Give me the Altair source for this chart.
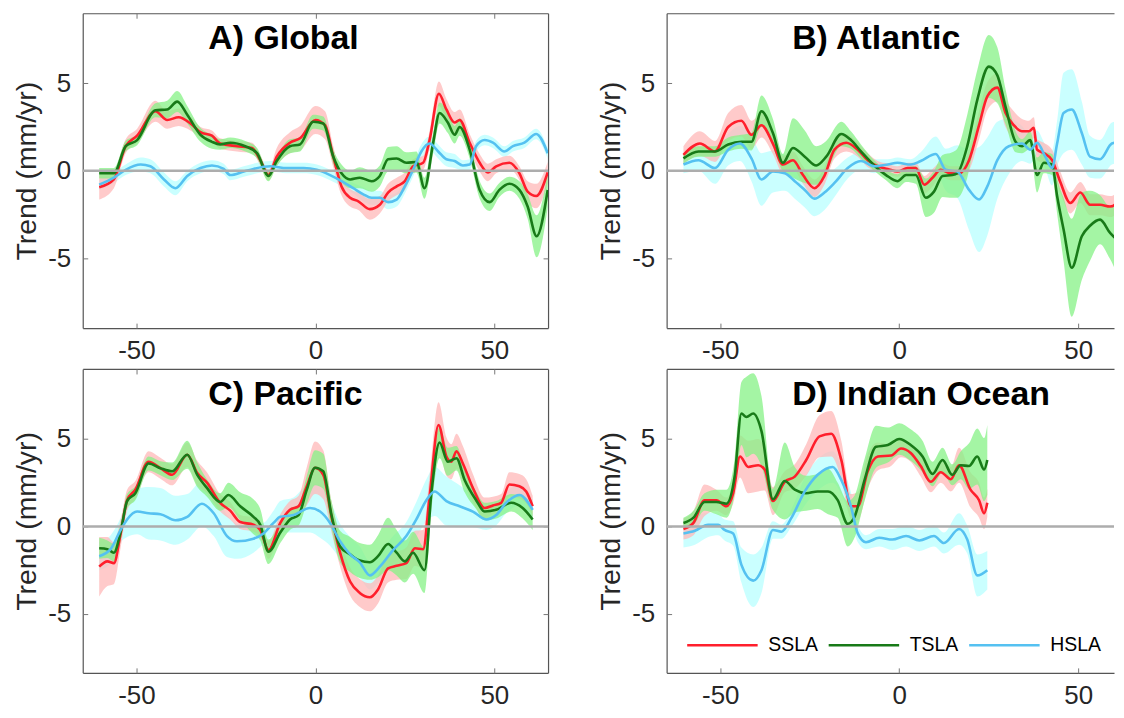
import altair as alt
import pandas as pd

SERIES = ["SSLA", "TSLA", "HSLA"]
LINE_COLORS = ["#FF1F2C", "#187A18", "#55C1F1"]
BAND_COLORS = ["#FFB8B8", "#86F286", "#B8FFFF"]
X_TICKS = [-50, 0, 50]
Y_TICKS = [-5, 0, 5]
ZERO = [0]
TITLES = ["A) Global", "B) Atlantic", "C) Pacific", "D) Indian Ocean"]

# ---------------- A) Global ----------------
A_SSLA_LAT = [-60.4, -56.3, -53, -49.8, -44.7, -41.4, -38.2, -34.9, -32.1, -28.9,
              -26.6, -21.9, -17.7, -15.4, -13.1, -10.8, -7.1, -4.3, 0, 2.7,
              5, 7.3, 9.7, 12, 15.2, 18, 20.3, 22.7, 25, 27.3,
              30.1, 31.9, 34.5, 36.6, 38.9, 40.3, 43.1, 45.9, 48.2, 50.5,
              54.2, 57, 59.3, 61.7, 64.9]
A_SSLA = [-0.95, -0.5, 1.4, 2.0, 3.4, 2.9, 3.05, 2.7, 2.2, 2.0,
          1.55, 1.4, 1.3, 0.6, -0.25, 0.8, 1.6, 1.85, 2.9, 2.6,
          0.8, -0.9, -1.55, -1.75, -2.2, -1.95, -1.25, -0.9, -0.6, 0.25,
          0.45, 1.75, 4.4, 3.5, 2.75, 2.9, 1.6, 0.45, -0.1, 0.25,
          0.45, -0.15, -1.2, -1.45, -0.1]
A_SSLA_ERR = [0.7, 0.5, 0.4, 0.4, 0.6, 0.5, 0.5, 0.4, 0.3, 0.3,
              0.3, 0.3, 0.3, 0.3, 0.3, 0.5, 0.6, 0.7, 0.8, 0.8,
              0.6, 0.5, 0.5, 0.5, 0.6, 0.5, 0.5, 0.5, 0.5, 0.4,
              0.4, 0.5, 0.7, 0.6, 0.6, 0.6, 0.5, 0.5, 0.5, 0.4,
              0.4, 0.4, 0.6, 0.7, 0.6]
A_TSLA_LAT = [-60.4, -56.3, -53, -49.8, -44.7, -41.4, -38.6, -35.8, -32.1, -28.9,
              -26.6, -23.8, -19.6, -16.3, -13.1, -10.8, -7.1, -4.3, -0.6, 2.2,
              5, 7.3, 9.7, 12.4, 15.7, 18, 20.3, 22.7, 25.4, 28.2,
              30.5, 32.9, 34.7, 37, 38.9, 40.3, 43.1, 45.9, 48.7, 51.4,
              54.2, 57, 59.3, 61.8, 64.9]
A_TSLA = [-0.15, -0.15, 1.4, 1.75, 3.45, 3.5, 3.95, 3.2, 2.05, 1.65,
          1.5, 1.6, 1.4, 1.0, -0.3, 0.55, 1.4, 1.5, 2.8, 2.7,
          0.8, -0.15, -0.5, -0.4, -0.6, -0.3, 0.65, 0.7, 0.45, 0.5,
          -1.0, 1.6, 3.3, 2.75, 2.05, 2.5, 1.2, -1.1, -1.8, -1.1,
          -0.75, -1.1, -2.05, -3.75, -1.1]
A_TSLA_ERR = [0.3, 0.3, 0.3, 0.3, 0.4, 0.5, 0.6, 0.5, 0.4, 0.4,
              0.3, 0.3, 0.3, 0.3, 0.3, 0.3, 0.4, 0.4, 0.4, 0.4,
              0.4, 0.5, 0.5, 0.6, 0.6, 0.6, 0.7, 0.7, 0.6, 0.6,
              0.6, 0.6, 0.6, 0.6, 0.5, 0.5, 0.5, 0.5, 0.5, 0.4,
              0.4, 0.5, 0.7, 1.2, 1.0]
A_HSLA_LAT = [-60.4, -56.3, -53, -48.8, -46.1, -42.3, -39.1, -35.8, -32.1, -28.9,
              -25.6, -23.8, -20, -17.3, -12.6, -8, -3.3, 0.4, 4.1, 7.8,
              10.6, 13.4, 15.7, 18, 20.3, 22.7, 25, 27.3, 29.6, 31.9,
              34.3, 36.6, 38.9, 41.2, 43.1, 44.9, 47.3, 49.6, 52.8, 55.2,
              58.4, 61.7, 64.9]
A_HSLA = [-0.8, -0.4, 0.05, 0.35, 0.25, -0.5, -1.0, -0.3, 0.15, 0.3,
          0.1, -0.25, -0.05, 0.1, 0.25, 0.15, 0.15, 0.05, -0.25, -0.65,
          -1.0, -1.35, -1.55, -1.55, -1.8, -1.65, -0.9, 0.05, 1.1, 1.55,
          1.1, 0.65, 0.55, 0.3, 0.35, 1.4, 1.75, 1.6, 1.1, 1.4,
          1.6, 2.1, 1.0]
A_HSLA_ERR = [0.3, 0.3, 0.3, 0.4, 0.4, 0.4, 0.4, 0.3, 0.3, 0.3,
              0.3, 0.3, 0.3, 0.3, 0.3, 0.3, 0.3, 0.3, 0.3, 0.3,
              0.3, 0.4, 0.4, 0.4, 0.4, 0.4, 0.4, 0.4, 0.4, 0.4,
              0.4, 0.4, 0.4, 0.3, 0.3, 0.3, 0.3, 0.3, 0.3, 0.3,
              0.3, 0.3, 0.3]

# ---------------- B) Atlantic ----------------
B_SSLA_LAT = [-60.3, -55.7, -51.5, -47.8, -44.1, -41.3, -38.5, -35.3, -32.5, -29.7,
              -26.9, -23.7, -20.9, -18.1, -14.8, -11.6, -8.8, -6, -3.2, -0.5,
              2.3, 4.6, 7, 9.3, 11.6, 14.4, 16.7, 19.5, 22.3, 24.6,
              27.4, 29.7, 32, 34.3, 36.2, 37.6, 38.5, 40.4, 42.7, 45,
              47.8, 50.6, 53.3, 56.1, 58.9, 60.8, 62.8]
B_SSLA = [0.9, 1.55, 1.1, 2.5, 2.85, 2.05, 2.6, 1.55, 0.35, 0.6,
          -0.25, -1.0, -0.3, 1.2, 1.6, 1.2, 0.6, 0.25, 0.1, -0.05,
          0.15, 0.15, -0.8, -0.4, 0.05, -0.15, -0.15, 0.6, 2.6, 4.25,
          4.75, 3.3, 2.6, 2.25, 2.25, 2.45, 1.2, 1.0, 0.6, -0.65,
          -1.85, -1.25, -1.95, -1.95, -2.05, -1.85, -1.0]
B_SSLA_ERR = [0.5, 0.7, 0.6, 0.8, 0.9, 0.8, 0.7, 0.6, 0.5, 0.5,
              0.5, 0.5, 0.5, 0.5, 0.5, 0.4, 0.4, 0.3, 0.3, 0.3,
              0.3, 0.3, 0.5, 0.5, 0.4, 0.4, 0.4, 0.6, 0.8, 0.8,
              0.8, 0.8, 0.8, 0.7, 0.6, 0.6, 0.6, 0.6, 0.6, 0.6,
              0.6, 0.6, 0.6, 0.6, 0.6, 0.6, 0.6]
B_TSLA_LAT = [-60.3, -56.1, -51.5, -47.8, -44.1, -41.3, -38.5, -35.3, -32.5, -29.7,
              -26.4, -23.2, -20.4, -16.2, -13.5, -10.7, -7, -3.7, -0.5, 1.9,
              4.6, 7.4, 9.7, 12.1, 14.8, 16.2, 19, 21.8, 25, 27.4,
              29.7, 32.5, 34.3, 36.6, 38.5, 40.4, 42.7, 44.1, 45.9, 48.2,
              51, 53.3, 56.1, 58.9, 61.7, 62.8]
B_TSLA = [0.7, 1.1, 1.1, 1.5, 1.65, 1.65, 3.4, 2.15, 0.45, 1.3,
          0.8, 0.3, 0.8, 2.1, 1.75, 1.1, 0.3, -0.25, -0.6, -0.25,
          -0.25, -1.55, -1.2, -0.3, -0.25, -0.15, 1.4, 4.05, 5.95, 5.45,
          3.65, 1.65, 1.4, 1.75, -0.25, 0.45, 0.35, -1.45, -3.35, -5.55,
          -3.75, -3.15, -2.8, -3.55, -4.0, -3.15]
B_TSLA_ERR = [0.3, 0.3, 0.3, 0.4, 0.4, 0.5, 0.9, 0.8, 0.5, 1.7,
              1.5, 1.1, 0.9, 0.7, 0.5, 0.4, 0.3, 0.3, 0.4, 0.4,
              0.5, 1.1, 1.2, 1.2, 1.3, 1.4, 1.8, 1.7, 1.8, 1.6,
              1.0, 0.6, 0.4, 0.5, 1.0, 0.6, 0.6, 1.0, 1.8, 2.8,
              2.5, 2.0, 1.4, 1.5, 2.0, 2.0]
B_HSLA_LAT = [-60.3, -56.1, -51.5, -47.8, -44.5, -41.3, -38.5, -35.3, -32, -29.2,
              -26.4, -23.7, -20.9, -18.1, -14.4, -10.7, -7, -3.2, -0.5, 3.2,
              6, 10.2, 13, 16.2, 19.5, 22.3, 24.6, 27.4, 30.6, 34.3,
              36.6, 38.5, 40.8, 42.7, 44.1, 45.9, 48.2, 51, 53.3, 56.1,
              59.4, 61.7, 62.8]
B_HSLA = [0.35, 0.6, 0.15, 1.2, 1.55, 0.7, -0.5, -0.05, -0.15, -0.6,
          -1.1, -1.6, -1.25, -0.7, 0.15, 0.55, 0.25, 0.35, 0.45, 0.35,
          0.55, 0.95, 0.05, -0.05, -1.1, -1.65, -0.9, 0.6, 1.4, 1.55,
          1.2, 1.6, 0.8, 0.15, 1.55, 3.3, 3.5, 2.15, 0.8, 0.65,
          1.55, 1.65, 1.4]
B_HSLA_ERR = [0.5, 0.6, 0.9, 0.9, 1.0, 1.3, 1.5, 1.2, 1.0, 1.0,
              1.0, 1.0, 1.0, 0.8, 0.6, 0.5, 0.4, 0.3, 0.3, 0.3,
              0.5, 1.0, 1.2, 1.5, 2.3, 3.0, 2.8, 2.2, 1.6, 1.0,
              0.8, 0.7, 0.7, 1.0, 1.3, 2.3, 2.3, 1.8, 1.2, 1.1,
              1.2, 1.2, 1.2]

# ---------------- C) Pacific ----------------
C_SSLA_LAT = [-60.4, -58.1, -56.3, -54.4, -52.6, -50.3, -46.6, -43.3, -40, -35.8,
              -33, -30.3, -26.6, -23.8, -21, -17.3, -15.4, -13.1, -9.8, -7.1,
              -4.7, -2.4, -0.1, 2.2, 4.5, 6.9, 9.7, 12.4, 15.2, 17.5,
              20.3, 22.7, 25.4, 27.8, 30.1, 31.9, 34.4, 36.6, 38, 39.4,
              41.2, 44, 47.3, 49.6, 51.9, 54.2, 57, 58.9, 60.7]
C_SSLA = [-2.3, -2.0, -2.1, -0.4, 1.5, 2.1, 3.7, 3.33, 2.95, 4.1,
          3.05, 2.5, 1.35, 0.9, 0.25, 0.1, -0.2, -1.35, 0.2, 0.95,
          1.15, 2.3, 3.35, 2.95, 0.55, -1.5, -3.15, -3.8, -4.05, -3.6,
          -2.4, -2.25, -2.1, -1.25, -1.3, 1.7, 5.8, 4.0, 3.7, 4.3,
          3.6, 2.2, 1.05, 1.2, 1.35, 2.4, 2.3, 2.0, 1.15]
C_SSLA_ERR = [1.7, 1.4, 1.2, 0.8, 0.6, 0.5, 0.6, 0.6, 0.6, 0.7,
              0.7, 0.6, 0.5, 0.5, 0.4, 0.4, 0.4, 0.5, 0.5, 0.5,
              0.6, 1.1, 1.5, 1.4, 0.9, 0.8, 0.8, 0.8, 0.8, 0.8,
              0.8, 0.8, 0.9, 1.0, 1.1, 1.2, 1.3, 1.1, 1.0, 1.0,
              1.0, 0.8, 0.6, 0.5, 0.5, 0.7, 0.7, 0.7, 0.6]
C_TSLA_LAT = [-60.4, -58.1, -56.3, -54.4, -52.6, -50.3, -46.6, -43.3, -40, -35.8,
              -33, -30.3, -26.6, -24.3, -21, -17.3, -15.4, -13.1, -9.8, -7.1,
              -4.7, -2.4, -0.1, 2.2, 4.5, 6.9, 9.7, 12.4, 15.2, 17.5,
              20.3, 22.7, 25, 27.3, 30.5, 32.4, 34.7, 37, 39.4, 41.7,
              44.9, 47.3, 50.5, 54.7, 57.9, 60.7]
C_TSLA = [-1.25, -1.3, -1.5, -0.3, 1.45, 1.9, 3.6, 3.33, 3.15, 4.1,
          2.95, 2.2, 1.4, 1.8, 1.15, 0.55, 0.1, -1.45, -0.35, 0.4,
          0.65, 2.1, 3.35, 3.15, 0.65, -1.15, -1.6, -1.95, -2.05, -1.7,
          -1.0, -1.5, -2.0, -1.5, -2.5, 1.9, 4.8, 3.7, 3.9, 2.65,
          1.5, 0.85, 0.95, 1.35, 1.05, 0.4]
C_TSLA_ERR = [0.6, 0.5, 0.5, 0.5, 0.4, 0.4, 0.4, 0.4, 0.5, 0.8,
              0.7, 0.5, 0.5, 0.7, 0.8, 1.0, 0.9, 0.7, 0.6, 0.6,
              0.6, 0.8, 1.0, 1.0, 0.8, 0.9, 1.0, 1.0, 1.0, 1.2,
              1.5, 1.3, 1.2, 1.2, 1.3, 1.0, 0.9, 0.8, 0.7, 0.7,
              0.5, 0.5, 0.5, 0.5, 0.6, 0.6]
C_HSLA_LAT = [-60.4, -57.2, -54.4, -52.6, -49.8, -46.6, -43.3, -39.1, -35.8, -31.7,
              -28.4, -24.7, -21.9, -17.3, -14.5, -11.7, -9.8, -6.1, -1.5, 1.3,
              4.1, 6.9, 9.7, 12.4, 15.2, 18, 21.7, 25.4, 28.2, 31,
              33.3, 36.6, 40.3, 44, 47.7, 50.5, 53.3, 57, 60.7]
C_HSLA = [-1.7, -1.3, -0.2, 0.4, 0.85, 0.75, 0.7, 0.35, 0.55, 1.3,
          0.75, -0.55, -0.85, -0.7, -0.4, 0.2, 0.55, 0.65, 1.05, 0.85,
          0.2, -0.85, -1.6, -2.05, -2.8, -2.3, -1.35, -0.55, 0.4, 1.5,
          2.0, 1.45, 1.15, 0.85, 0.4, 0.65, 1.35, 1.8, 0.95]
C_HSLA_ERR = [0.8, 0.8, 0.7, 1.0, 1.3, 1.5, 1.5, 1.4, 1.3, 1.3,
              1.3, 1.2, 1.0, 0.8, 0.6, 0.7, 0.9, 1.0, 1.4, 1.5,
              1.3, 1.0, 1.0, 0.9, 0.8, 0.8, 0.8, 0.8, 1.0, 1.2,
              1.4, 1.4, 1.2, 0.9, 0.6, 0.6, 0.6, 0.6, 0.6]

# ---------------- D) Indian Ocean ----------------
D_SSLA_LAT = [-60.3, -57.5, -54.4, -51.1, -48.3, -46.4, -44.5, -42.2, -39.4, -37.6,
              -35.3, -32, -29.2, -26, -22.3, -19, -16.2, -13.5, -11.6, -8.8,
              -6, -2.3, 0.5, 3.2, 6, 8.8, 11.6, 14.4, 16.7, 19.9,
              22.3, 23.7, 24.6]
D_SSLA = [-0.15, 0.2, 1.5, 1.5, 1.15, 1.9, 4.0, 3.4, 3.5, 3.25,
          1.45, 2.55, 2.85, 3.8, 5.15, 5.3, 3.8, 1.15, 1.15, 3.15,
          4.0, 4.05, 4.45, 4.2, 3.45, 2.55, 3.1, 2.7, 3.5, 2.1,
          1.5, 0.75, 1.35]
D_SSLA_ERR = [0.6, 0.7, 0.9, 0.6, 0.5, 0.6, 1.2, 1.5, 1.5, 1.2,
              0.8, 0.6, 0.7, 0.9, 1.2, 1.3, 1.1, 0.7, 0.8, 1.0,
              0.8, 0.6, 0.5, 0.5, 0.6, 0.6, 0.6, 0.7, 1.0, 1.0,
              1.0, 0.9, 0.8]
D_TSLA_LAT = [-60.3, -57.5, -54.4, -51.1, -48.3, -46, -44.1, -42.7, -40.8, -38.5,
              -35.3, -32, -29.2, -26, -22.8, -19.9, -17.2, -14.4, -12.5, -9.7,
              -6.5, -3.2, 0, 3.2, 6.5, 9.3, 12.1, 14.8, 17.2, 19.5,
              21.8, 23.7, 24.6]
D_TSLA = [0.2, 0.5, 1.4, 1.4, 1.3, 2.85, 6.45, 6.25, 6.45, 5.45,
          1.55, 2.6, 2.1, 1.9, 2.0, 2.0, 1.5, 0.15, 0.55, 2.65,
          4.55, 4.65, 5.0, 4.65, 4.0, 3.0, 3.8, 2.95, 3.5, 3.45,
          4.0, 3.25, 3.8]
D_TSLA_ERR = [0.3, 0.4, 0.5, 0.7, 0.8, 1.0, 1.8, 2.3, 2.3, 2.0,
              0.6, 2.2, 1.3, 1.0, 1.0, 1.3, 1.0, 1.3, 1.2, 1.2,
              1.2, 1.0, 0.9, 0.9, 0.9, 0.7, 0.7, 0.6, 0.8, 1.3,
              1.6, 1.8, 2.0]
D_HSLA_LAT = [-60.3, -57.1, -53.4, -50.6, -48.8, -46.4, -44.1, -40.8, -38.5, -35.3,
              -32.9, -30.1, -26.4, -22.8, -18.6, -16.2, -13.5, -11.6, -9.3, -5.6,
              -1.9, 1.9, 5.6, 9.7, 12.5, 16.7, 19, 21.8, 24.6]
D_HSLA = [-0.4, -0.25, 0.1, 0.1, -0.2, -0.4, -2.2, -3.1, -2.5, -0.2,
          -0.3, 0.5, 2.0, 2.95, 3.4, 2.65, 1.15, -0.4, -0.9, -0.65,
          -0.75, -0.55, -0.8, -0.55, -0.95, -0.15, -0.75, -2.8, -2.5]
D_HSLA_ERR = [0.8, 0.8, 0.7, 0.6, 0.6, 0.7, 1.0, 1.5, 1.3, 0.5,
              0.4, 0.5, 0.8, 0.9, 0.9, 0.8, 0.8, 0.5, 0.4, 0.5,
              0.6, 0.6, 0.6, 0.6, 0.6, 0.9, 0.8, 1.2, 1.1]

FONT = "Liberation Sans"
H_TOP = 316
H_BOT = 305
Y_MAX = 9
Y_MIN_TOP = -9
Y_MIN_BOT = -8.37
W_LEFT = 467
W_RIGHT = 449
X_MIN = -65
X_MAX_LEFT = 65
X_MAX_RIGHT = 60.0
AXIS_COLOR = "#555555"
TICK_COLOR = "#777777"


def make_df(lat, val, err, name):
    return pd.DataFrame({
        "lat": lat,
        "value": val,
        "lo": [v - e for v, e in zip(val, err)],
        "hi": [v + e for v, e in zip(val, err)],
        "series": name,
    })


LABEL_EXPR = "'' + datum.value"


def panel(title, sdfs, width, height, ymin, xmax, right_border, legend):
    xs = alt.Scale(domain=[X_MIN, xmax], nice=False, zero=False)
    ys = alt.Scale(domain=[ymin, Y_MAX], nice=False, zero=False)
    line_scale = alt.Scale(domain=SERIES, range=LINE_COLORS)

    ax_x_main = alt.Axis(orient="bottom", values=X_TICKS, ticks=False, domain=True,
                         labels=True, grid=False, title=None, labelPadding=10,
                         labelExpr=LABEL_EXPR)
    ax_y_main = alt.Axis(orient="left", values=Y_TICKS, ticks=False, domain=True,
                         labels=True, grid=False, title="Trend (mm/yr)",
                         labelPadding=12, titlePadding=6, labelExpr=LABEL_EXPR)
    ax_x_tick_bottom = alt.Axis(orient="top", offset=-height, values=X_TICKS, ticks=True,
                                tickSize=5, domain=False, labels=False, grid=False, title=None)
    ax_y_tick_left = alt.Axis(orient="right", offset=-width, values=Y_TICKS, ticks=True,
                              tickSize=5, domain=False, labels=False, grid=False, title=None)
    ax_x_border_top = alt.Axis(orient="top", ticks=False, domain=True, labels=False,
                               grid=False, title=None)
    ax_y_border_right = alt.Axis(orient="right", ticks=False, domain=True, labels=False,
                                 grid=False, title=None)
    ax_x_tick_top = alt.Axis(orient="bottom", offset=-height, values=X_TICKS, ticks=True,
                             tickSize=5, domain=False, labels=False, grid=False, title=None)
    ax_y_tick_right = alt.Axis(orient="left", offset=-width, values=Y_TICKS, ticks=True,
                               tickSize=5, domain=False, labels=False, grid=False, title=None)

    d_s, d_t, d_h = sdfs
    band_axes = [
        (d_h, BAND_COLORS[2], ax_x_main, ax_y_main),
        (d_s, BAND_COLORS[0], ax_x_tick_bottom, ax_y_tick_left),
        (d_t, BAND_COLORS[1], ax_x_border_top, ax_y_border_right if right_border else None),
    ]
    layers = []
    for d, col, axx, axy in band_axes:
        layers.append(
            alt.Chart(d).mark_area(interpolate="monotone", clip=True, opacity=0.75, color=col)
            .encode(
                x=alt.X("lat:Q", scale=xs, axis=axx),
                y=alt.Y("lo:Q", scale=ys, axis=axy),
                y2="hi:Q",
            )
        )
    leg = None
    if legend:
        leg = alt.Legend(orient="none", legendX=19, legendY=240, direction="horizontal",
                         title=None, symbolType="stroke", symbolSize=5000,
                         symbolStrokeWidth=2.6, labelFontSize=19.5, labelFont=FONT,
                         labelColor="#000000", labelOffset=9, columnPadding=5, padding=0)
    for i, d in enumerate([d_s, d_t, d_h]):
        axx = ax_x_tick_top if (i == 0 and right_border) else None
        axy = ax_y_tick_right if (i == 0 and right_border) else None
        layers.append(
            alt.Chart(d).mark_line(interpolate="monotone", clip=True, strokeWidth=2.6)
            .encode(
                x=alt.X("lat:Q", scale=xs, axis=axx),
                y=alt.Y("value:Q", scale=ys, axis=axy),
                stroke=alt.Stroke("series:N", scale=line_scale, legend=leg),
            )
        )
    layers.append(
        alt.Chart(pd.DataFrame({"z": ZERO})).mark_rule(color="#ADADAD", strokeWidth=2.5)
        .encode(y=alt.Y("z:Q", scale=ys, axis=None))
    )
    layers.append(
        alt.Chart(pd.DataFrame({"t": [title]})).mark_text(
            align="left", baseline="alphabetic", font=FONT, fontSize=34,
            fontWeight="bold", color="#000000")
        .encode(text="t:N", x=alt.value(126), y=alt.value(36))
    )
    return (alt.layer(*layers)
            .resolve_axis(x="independent", y="independent")
            .properties(width=width, height=height))


pA = panel(TITLES[0], [make_df(A_SSLA_LAT, A_SSLA, A_SSLA_ERR, "SSLA"),
                       make_df(A_TSLA_LAT, A_TSLA, A_TSLA_ERR, "TSLA"),
                       make_df(A_HSLA_LAT, A_HSLA, A_HSLA_ERR, "HSLA")],
           W_LEFT, H_TOP, Y_MIN_TOP, X_MAX_LEFT, True, False)
pB = panel(TITLES[1], [make_df(B_SSLA_LAT, B_SSLA, B_SSLA_ERR, "SSLA"),
                       make_df(B_TSLA_LAT, B_TSLA, B_TSLA_ERR, "TSLA"),
                       make_df(B_HSLA_LAT, B_HSLA, B_HSLA_ERR, "HSLA")],
           W_RIGHT, H_TOP, Y_MIN_TOP, X_MAX_RIGHT, False, False)
pC = panel(TITLES[2], [make_df(C_SSLA_LAT, C_SSLA, C_SSLA_ERR, "SSLA"),
                       make_df(C_TSLA_LAT, C_TSLA, C_TSLA_ERR, "TSLA"),
                       make_df(C_HSLA_LAT, C_HSLA, C_HSLA_ERR, "HSLA")],
           W_LEFT, H_BOT, Y_MIN_BOT, X_MAX_LEFT, True, False)
pD = panel(TITLES[3], [make_df(D_SSLA_LAT, D_SSLA, D_SSLA_ERR, "SSLA"),
                       make_df(D_TSLA_LAT, D_TSLA, D_TSLA_ERR, "TSLA"),
                       make_df(D_HSLA_LAT, D_HSLA, D_HSLA_ERR, "HSLA")],
           W_RIGHT, H_BOT, Y_MIN_BOT, X_MAX_RIGHT, False, True)

row1 = alt.hconcat(pA, pB, spacing=46).resolve_scale(stroke="independent").resolve_legend(stroke="independent")
row2 = alt.hconcat(pC, pD, spacing=46).resolve_scale(stroke="independent").resolve_legend(stroke="independent")

chart = (
    alt.vconcat(row1, row2, spacing=4)
    .resolve_scale(stroke="independent")
    .resolve_legend(stroke="independent")
    .properties(padding={"left": 4, "top": 3, "right": 0, "bottom": 0})
    .configure_view(strokeWidth=0, stroke="transparent")
    .configure_axis(labelFont=FONT, labelFontSize=26, labelColor="#262626",
                    titleFont=FONT, titleFontSize=28.5, titleFontWeight="normal",
                    titleColor="#262626", domainColor=AXIS_COLOR, tickColor=TICK_COLOR,
                    domainWidth=1.2, tickWidth=1, grid=False)
)

chart.save("out.html", embed_options={"renderer": "svg", "actions": False})
